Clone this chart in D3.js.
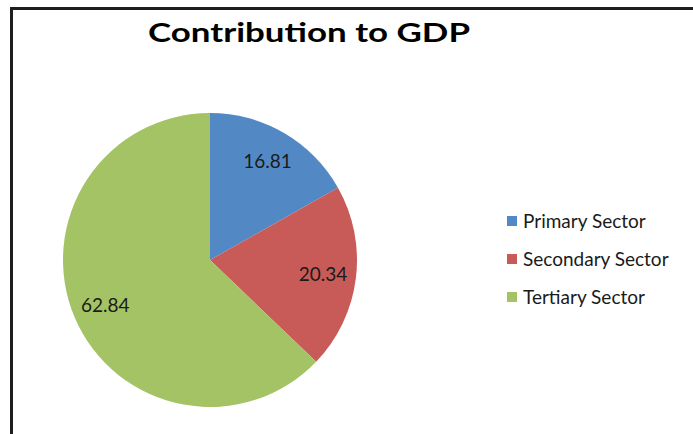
<!DOCTYPE html>
<html lang="en">
<head>
  <meta charset="UTF-8">
  <title>Contribution to GDP</title>
  <style>
    * {
      padding: 0;
      margin: 0;
    }
    body {
      background: #fff;
    }
  </style>
</head>
<body>
  <script src="https://d3js.org/d3.v7.min.js"></script>
  <script>
    const width = 693;
    const height = 434;

    const sectors = ['Primary Sector', 'Secondary Sector', 'Tertiary Sector'];
    const shares = [16.81, 20.34, 62.84];
    const colors = ['#5289C5', '#C85B58', '#A4C365'];

    const font = 'Lato, "Open Sans", sans-serif';

    const svg = d3.select('body')
      .append('svg')
      .attr('width', width)
      .attr('height', height);

    // frame: only the top and left lines show in the picture
    svg.append('line')
      .attr('x1', 10).attr('y1', 8.5)
      .attr('x2', width).attr('y2', 8.5)
      .attr('stroke', '#1e1e1e')
      .attr('stroke-width', 3);
    svg.append('line')
      .attr('x1', 11.5).attr('y1', 7)
      .attr('x2', 11.5).attr('y2', height)
      .attr('stroke', '#1e1e1e')
      .attr('stroke-width', 3);

    // title is a wide Calibri in the original, so stretch Lato to its width
    svg.append('text')
      .attr('x', 148)
      .attr('y', 42)
      .attr('font-family', font)
      .attr('font-weight', 'bold')
      .attr('font-size', 27.5)
      .attr('textLength', 322)
      .attr('lengthAdjust', 'spacingAndGlyphs')
      .attr('fill', '#000')
      .text('Contribution to GDP');

    const cx = 210, cy = 260, r = 147;

    const color = d3.scaleOrdinal().domain(sectors).range(colors);

    const pie = d3.pie().sort(null).value(d => d.value);
    const data = sectors.map((s, i) => ({ name: s, value: shares[i] }));
    const arcs = pie(data);

    const arc = d3.arc().innerRadius(0).outerRadius(r);
    const labelArc = d3.arc().innerRadius(r * 0.775).outerRadius(r * 0.775);

    const g = svg.append('g').attr('transform', `translate(${cx},${cy})`);

    g.selectAll('path')
      .data(arcs)
      .join('path')
      .attr('d', arc)
      .attr('fill', d => color(d.data.name));

    g.selectAll('text')
      .data(arcs)
      .join('text')
      .attr('transform', d => `translate(${labelArc.centroid(d)})`)
      .attr('text-anchor', 'middle')
      .attr('dy', '0.36em')
      .attr('font-family', font)
      .attr('font-size', 19)
      .attr('fill', '#1a1a1a')
      .text(d => d.data.value.toFixed(2));

    const legend = svg.append('g')
      .attr('transform', 'translate(507,221)');

    const rows = legend.selectAll('g')
      .data(sectors)
      .join('g')
      .attr('transform', (d, i) => `translate(0,${i * 38})`);

    rows.append('rect')
      .attr('x', 0)
      .attr('y', -5)
      .attr('width', 10)
      .attr('height', 10)
      .attr('fill', d => color(d));

    rows.append('text')
      .attr('x', 16)
      .attr('dy', '0.36em')
      .attr('font-family', font)
      .attr('font-size', 19)
      .attr('fill', '#1a1a1a')
      .text(d => d);
  </script>
</body>
</html>
